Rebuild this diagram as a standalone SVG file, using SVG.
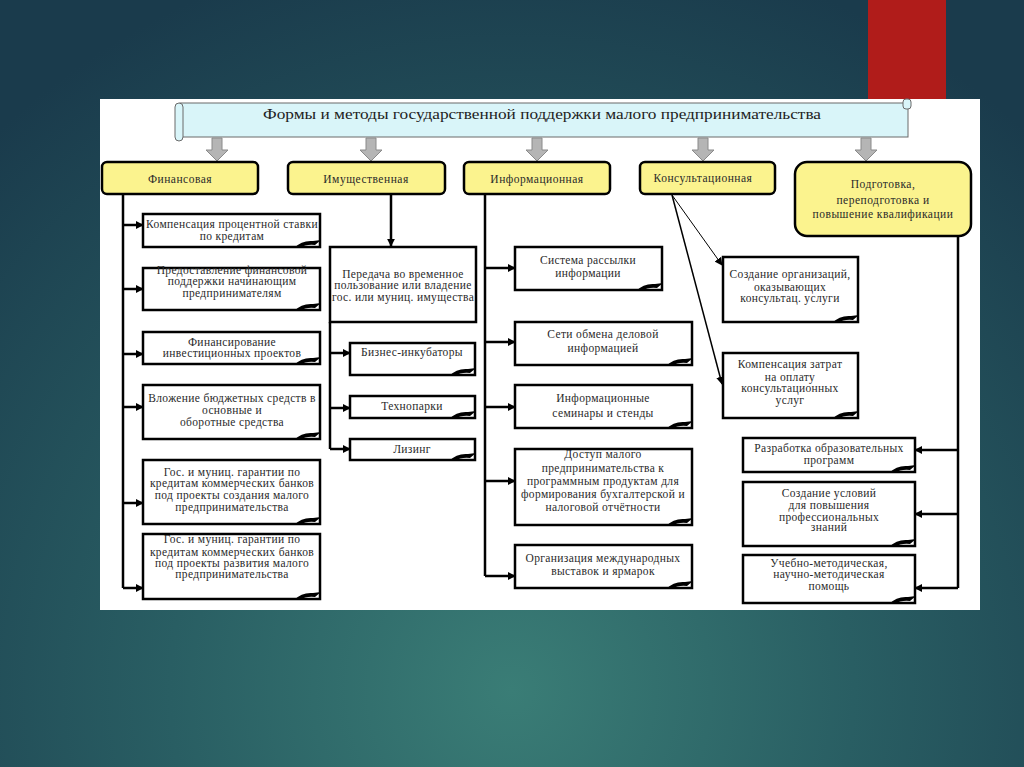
<svg xmlns="http://www.w3.org/2000/svg" xmlns:xlink="http://www.w3.org/1999/xlink" width="1024" height="767" viewBox="0 0 1024 767">
<defs>
<radialGradient id="bg" cx="512" cy="690" r="760" gradientUnits="userSpaceOnUse">
<stop offset="0" stop-color="#3a7d76"/>
<stop offset="0.45" stop-color="#295e63"/>
<stop offset="1" stop-color="#1a3b4c"/>
</radialGradient>
<marker id="ah" viewBox="0 0 10 10" refX="9" refY="5" markerWidth="8" markerHeight="8" markerUnits="userSpaceOnUse" orient="auto">
<path d="M0,0 L10,5 L0,10 Z" fill="#000"/>
</marker>
<path id="curl" d="M-26,1 Q-18,-7 -7,-6 L1,-7 L-5,-2 Q-14,-3 -20,1 Z" fill="#000"/>
<path id="garrow" d="M-5,0 H5 V12 H11 L0,23 L-11,12 H-5 Z" fill="#b5b5b5" stroke="#8a8a8a" stroke-width="1"/>
</defs>
<style>
.box{fill:#fff;stroke:#000;stroke-width:2.5}
.cat{fill:#fbf38e;stroke:#000;stroke-width:2.5}
.t{font-family:"Liberation Serif","DejaVu Serif",serif;font-size:11.5px;fill:#2a2a2a;text-anchor:middle;letter-spacing:0.35px}
.c{font-family:"Liberation Serif","DejaVu Serif",serif;font-size:11.5px;fill:#2a2a2a;text-anchor:middle;letter-spacing:0.5px}
.ln{stroke:#000;stroke-width:2.5;fill:none}
.ar{stroke:#000;stroke-width:2.5;fill:none;marker-end:url(#ah)}
</style>
<rect x="0" y="0" width="1024" height="767" fill="url(#bg)"/>
<rect x="868" y="0" width="78" height="102" fill="#b01c1a"/>
<rect x="100" y="99" width="880" height="511" fill="#fff"/>

<g id="title">
<rect x="180" y="103" width="728" height="34" fill="#d9f5f9" stroke="#6a6a6a" stroke-width="1"/>
<rect x="175" y="103" width="8" height="38" rx="4" fill="#d9f5f9" stroke="#6a6a6a" stroke-width="1"/>
<rect x="903" y="99" width="8" height="10" rx="3" fill="#d9f5f9" stroke="#6a6a6a" stroke-width="1"/>
<text x="542" y="119" font-family="Liberation Serif, DejaVu Serif, serif" font-size="15" fill="#222" text-anchor="middle" textLength="558" lengthAdjust="spacingAndGlyphs">Формы и методы государственной поддержки малого предпринимательства</text>
</g>

<g id="gray-arrows">
<use xlink:href="#garrow" x="217" y="138"/>
<use xlink:href="#garrow" x="371" y="138"/>
<use xlink:href="#garrow" x="537" y="138"/>
<use xlink:href="#garrow" x="703" y="138"/>
<use xlink:href="#garrow" x="866" y="138"/>
</g>

<g id="connectors">
<line class="ln" x1="123" y1="194" x2="123" y2="588"/>
<line class="ar" x1="123" y1="225" x2="143" y2="225"/>
<line class="ar" x1="123" y1="289" x2="143" y2="289"/>
<line class="ar" x1="123" y1="354" x2="143" y2="354"/>
<line class="ar" x1="123" y1="407" x2="143" y2="407"/>
<line class="ar" x1="123" y1="503" x2="143" y2="503"/>
<line class="ar" x1="123" y1="588" x2="143" y2="588"/>
<line class="ar" x1="391" y1="194" x2="391" y2="246"/>
<line class="ln" x1="330" y1="322" x2="330" y2="449"/>
<line class="ar" x1="330" y1="353" x2="350" y2="353"/>
<line class="ar" x1="330" y1="408" x2="350" y2="408"/>
<line class="ar" x1="330" y1="449" x2="350" y2="449"/>
<line class="ln" x1="485" y1="194" x2="485" y2="576"/>
<line class="ar" x1="485" y1="268" x2="515" y2="268"/>
<line class="ar" x1="485" y1="342" x2="515" y2="342"/>
<line class="ar" x1="485" y1="407" x2="515" y2="407"/>
<line class="ar" x1="485" y1="481" x2="515" y2="481"/>
<line class="ar" x1="485" y1="576" x2="515" y2="576"/>
<line x1="672" y1="195" x2="722" y2="265" stroke="#000" stroke-width="1" marker-end="url(#ah)"/>
<line x1="672" y1="195" x2="722" y2="384" stroke="#000" stroke-width="1.5" marker-end="url(#ah)"/>
<line class="ln" x1="958" y1="236" x2="958" y2="588"/>
<line class="ar" x1="958" y1="450" x2="915" y2="450"/>
<line class="ar" x1="958" y1="514" x2="915" y2="514"/>
<line class="ar" x1="958" y1="588" x2="915" y2="588"/>
</g>

<g id="cat-fin"><rect class="cat" x="102" y="162" width="156" height="32" rx="5"/><text class="c" x="180" y="183">Финансовая</text></g>
<g id="cat-imu"><rect class="cat" x="288" y="162" width="157" height="32" rx="5"/><text class="c" x="366" y="183">Имущественная</text></g>
<g id="cat-inf"><rect class="cat" x="464" y="162" width="146" height="32" rx="5"/><text class="c" x="537" y="183">Информационная</text></g>
<g id="cat-kons"><rect class="cat" x="640" y="162" width="135" height="32" rx="5"/><text class="c" x="703" y="182">Консультационная</text></g>
<g id="cat-podg"><rect class="cat" x="795" y="162" width="176" height="74" rx="12"/><text class="c" x="883" y="188">Подготовка,</text><text class="c" x="883" y="204">переподготовка и</text><text class="c" x="883" y="218">повышение квалификации</text></g>

<g id="f1"><rect class="box" x="143" y="214" width="177" height="33"/><use xlink:href="#curl" x="320" y="247"/><text class="t" x="232" y="228">Компенсация процентной ставки</text><text class="t" x="232" y="240">по кредитам</text></g>
<g id="f2"><rect class="box" x="143" y="268" width="177" height="42"/><use xlink:href="#curl" x="320" y="310"/><text class="t" x="232" y="274">Предоставление финансовой</text><text class="t" x="232" y="285">поддержки начинающим</text><text class="t" x="232" y="297">предпринимателям</text></g>
<g id="f3"><rect class="box" x="143" y="332" width="177" height="32"/><use xlink:href="#curl" x="320" y="364"/><text class="t" x="232" y="346">Финансирование</text><text class="t" x="232" y="357">инвестиционных проектов</text></g>
<g id="f4"><rect class="box" x="143" y="385" width="177" height="54"/><use xlink:href="#curl" x="320" y="439"/><text class="t" x="232" y="402">Вложение бюджетных средств в</text><text class="t" x="232" y="414">основные и</text><text class="t" x="232" y="426">оборотные средства</text></g>
<g id="f5"><rect class="box" x="143" y="460" width="177" height="64"/><use xlink:href="#curl" x="320" y="524"/><text class="t" x="232" y="476">Гос. и муниц. гарантии по</text><text class="t" x="232" y="487">кредитам коммерческих банков</text><text class="t" x="232" y="499">под проекты создания малого</text><text class="t" x="232" y="511">предпринимательства</text></g>
<g id="f6"><rect class="box" x="143" y="534" width="177" height="65"/><use xlink:href="#curl" x="320" y="599"/><text class="t" x="232" y="543">Гос. и муниц. гарантии по</text><text class="t" x="232" y="556">кредитам коммерческих банков</text><text class="t" x="232" y="567">под проекты развития малого</text><text class="t" x="232" y="578">предпринимательства</text></g>

<g id="m1"><rect class="box" x="330" y="247" width="146" height="75"/><text class="t" x="403" y="278">Передача во временное</text><text class="t" x="403" y="289">пользование или владение</text><text class="t" x="403" y="301">гос. или муниц. имущества</text></g>
<g id="m2"><rect class="box" x="350" y="343" width="125" height="32"/><use xlink:href="#curl" x="475" y="375"/><text class="t" x="412" y="356">Бизнес-инкубаторы</text></g>
<g id="m3"><rect class="box" x="350" y="396" width="125" height="22"/><use xlink:href="#curl" x="475" y="418"/><text class="t" x="412" y="410">Технопарки</text></g>
<g id="m4"><rect class="box" x="350" y="439" width="125" height="21"/><use xlink:href="#curl" x="475" y="460"/><text class="t" x="412" y="453">Лизинг</text></g>

<g id="i1"><rect class="box" x="515" y="247" width="147" height="43"/><use xlink:href="#curl" x="662" y="290"/><text class="t" x="588" y="264">Система рассылки</text><text class="t" x="588" y="277">информации</text></g>
<g id="i2"><rect class="box" x="515" y="322" width="177" height="43"/><use xlink:href="#curl" x="692" y="365"/><text class="t" x="603" y="338">Сети обмена деловой</text><text class="t" x="603" y="352">информацией</text></g>
<g id="i3"><rect class="box" x="515" y="385" width="177" height="43"/><use xlink:href="#curl" x="692" y="428"/><text class="t" x="603" y="402">Информационные</text><text class="t" x="603" y="417">семинары и стенды</text></g>
<g id="i4"><rect class="box" x="515" y="449" width="177" height="76"/><use xlink:href="#curl" x="692" y="525"/><text class="t" x="603" y="458">Доступ малого</text><text class="t" x="603" y="472">предпринимательства к</text><text class="t" x="603" y="485">программным продуктам для</text><text class="t" x="603" y="498">формирования бухгалтерской и</text><text class="t" x="603" y="511">налоговой отчётности</text></g>
<g id="i5"><rect class="box" x="515" y="545" width="177" height="43"/><use xlink:href="#curl" x="692" y="588"/><text class="t" x="603" y="562">Организация международных</text><text class="t" x="603" y="575">выставок и ярмарок</text></g>

<g id="k1"><rect class="box" x="723" y="257" width="135" height="65"/><use xlink:href="#curl" x="858" y="322"/><text class="t" x="790" y="278">Создание организаций,</text><text class="t" x="790" y="291">оказывающих</text><text class="t" x="790" y="302">консультац. услуги</text></g>
<g id="k2"><rect class="box" x="723" y="353" width="135" height="65"/><use xlink:href="#curl" x="858" y="418"/><text class="t" x="790" y="368">Компенсация затрат</text><text class="t" x="790" y="381">на оплату</text><text class="t" x="790" y="392">консультационных</text><text class="t" x="790" y="404">услуг</text></g>

<g id="p1"><rect class="box" x="743" y="438" width="172" height="34"/><use xlink:href="#curl" x="915" y="472"/><text class="t" x="829" y="452">Разработка образовательных</text><text class="t" x="829" y="464">программ</text></g>
<g id="p2"><rect class="box" x="743" y="482" width="172" height="64"/><use xlink:href="#curl" x="915" y="546"/><text class="t" x="829" y="497">Создание условий</text><text class="t" x="829" y="509">для повышения</text><text class="t" x="829" y="521">профессиональных</text><text class="t" x="829" y="531">знаний</text></g>
<g id="p3"><rect class="box" x="743" y="555" width="172" height="48"/><use xlink:href="#curl" x="915" y="603"/><text class="t" x="829" y="567">Учебно-методическая,</text><text class="t" x="829" y="578">научно-методическая</text><text class="t" x="829" y="590">помощь</text></g>
</svg>
